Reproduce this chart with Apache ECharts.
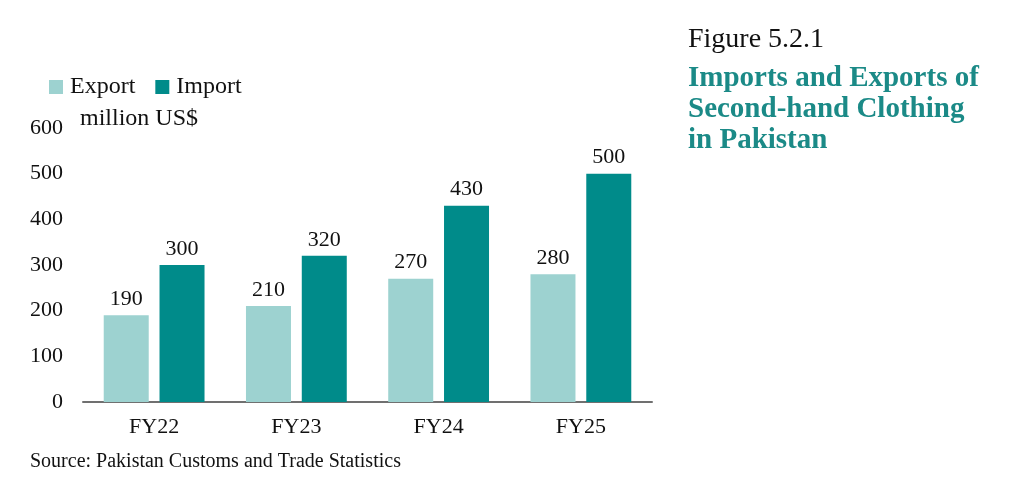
<!DOCTYPE html>
<html>
<head>
<meta charset="utf-8">
<script src="https://cdn.jsdelivr.net/npm/echarts@6/dist/echarts.min.js"></script>
<style>
  html, body { margin: 0; padding: 0; background: #fff; }
  #grafico { width: 1024px; height: 479px; }
</style>
</head>
<body>
<div id="grafico"></div>
<script>
// Dados
var anos = ['FY22', 'FY23', 'FY24', 'FY25'];
var exportacao = [190, 210, 270, 280];
var importacao = [300, 320, 430, 500];

var fonte = '"Liberation Serif", "DejaVu Serif", serif';
var corTitulo = '#1b8a87';

var chartDom = document.getElementById('grafico');
var myChart = echarts.init(chartDom);
var option = {
    backgroundColor: '#ffffff',
    textStyle: { fontFamily: fonte },
    title: [
        {
            text: 'Figure 5.2.1',
            left: 688,
            top: 26,
            padding: 0,
            textStyle: { fontFamily: fonte, fontSize: 28, fontWeight: 'normal', color: '#111' }
        },
        {
            text: 'Imports and Exports of\nSecond-hand Clothing\nin Pakistan',
            left: 688,
            top: 63,
            padding: 0,
            textStyle: { fontFamily: fonte, fontSize: 29, fontWeight: 'bold', color: corTitulo, lineHeight: 31 }
        },
        {
            text: 'million US$',
            left: 80,
            top: 107,
            padding: 0,
            textStyle: { fontFamily: fonte, fontSize: 24, fontWeight: 'normal', color: '#111' }
        },
        {
            text: 'Source: Pakistan Customs and Trade Statistics',
            left: 30,
            top: 452,
            padding: 0,
            textStyle: { fontFamily: fonte, fontSize: 20, fontWeight: 'normal', color: '#111' }
        }
    ],
    legend: {
        left: 49,
        top: 75,
        padding: 0,
        itemWidth: 14,
        itemHeight: 14,
        itemGap: 20,
        icon: 'rect',
        textStyle: { fontFamily: fonte, fontSize: 24, color: '#111', padding: [0, 0, 0, 2] },
        data: ['Export', 'Import']
    },
    grid: {
        left: 83,
        right: 372,
        top: 128,
        bottom: 77,
        containLabel: false
    },
    xAxis: {
        type: 'category',
        data: anos,
        axisLine: { lineStyle: { color: '#707070', width: 2 } },
        axisTick: { show: false },
        axisLabel: { fontFamily: fonte, fontSize: 22, color: '#111', margin: 14 }
    },
    yAxis: {
        type: 'value',
        min: 0,
        max: 600,
        interval: 100,
        splitLine: { show: false },
        axisLine: { show: false },
        axisTick: { show: false },
        axisLabel: { fontFamily: fonte, fontSize: 22, color: '#111', margin: 20 }
    },
    series: [
        {
            name: 'Export',
            type: 'bar',
            data: exportacao,
            barWidth: 45,
            barGap: '24%',
            itemStyle: { color: '#9dd2d0' },
            label: { show: true, position: 'top', distance: 5, fontFamily: fonte, fontSize: 22, color: '#111' },
            animation: false
        },
        {
            name: 'Import',
            type: 'bar',
            data: importacao,
            barWidth: 45,
            itemStyle: { color: '#008b8a' },
            label: { show: true, position: 'top', distance: 5, fontFamily: fonte, fontSize: 22, color: '#111' },
            animation: false
        }
    ]
};

option && myChart.setOption(option);
</script>
</body>
</html>
